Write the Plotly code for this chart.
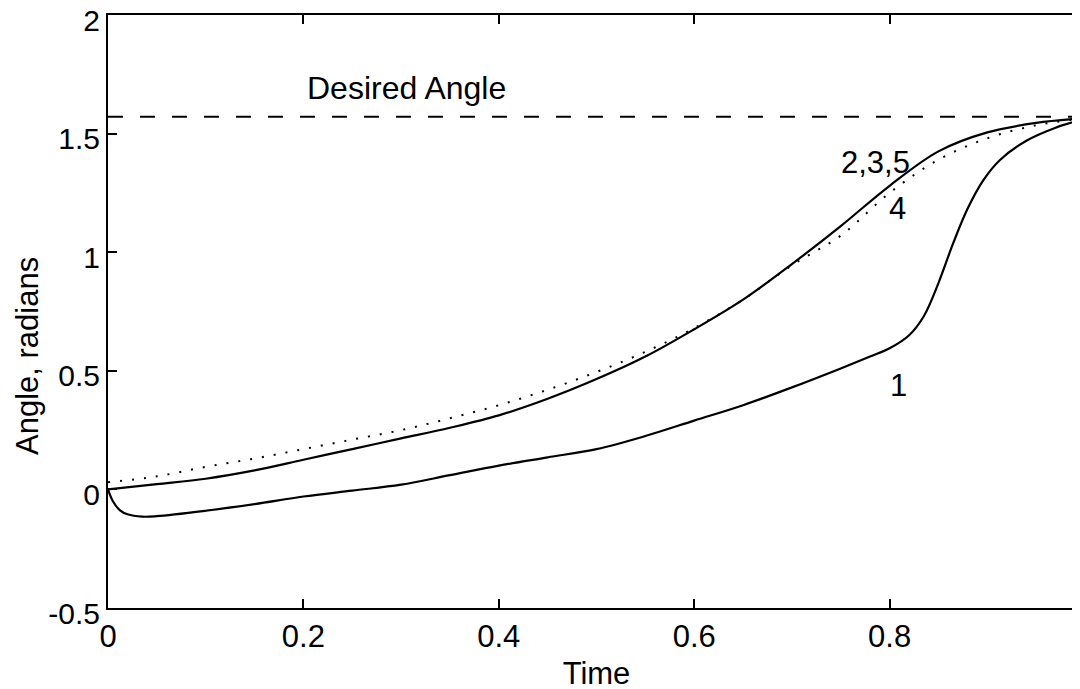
import plotly.graph_objects as go
import math

# ---- data ----
desired_angle = math.pi / 2

t_235 = [0, 0.05, 0.1, 0.15, 0.2, 0.25, 0.3, 0.35, 0.4, 0.45, 0.5, 0.55, 0.6, 0.65, 0.7, 0.75, 0.8,
         0.85, 0.9, 0.95, 1.0]
y_235 = [0, 0.022, 0.045, 0.08, 0.125, 0.17, 0.215, 0.26, 0.312, 0.382, 0.465, 0.56, 0.675, 0.80, 0.95,
         1.11, 1.28, 1.425, 1.505, 1.545, 1.565]

t_4 = [0, 0.05, 0.1, 0.15, 0.2, 0.25, 0.3, 0.35, 0.4, 0.45, 0.5, 0.55, 0.6, 0.65, 0.7, 0.75, 0.8,
       0.85, 0.9, 0.95, 1.0]
y_4 = [0.03, 0.055, 0.095, 0.13, 0.17, 0.21, 0.25, 0.3, 0.355, 0.42, 0.495, 0.58, 0.68, 0.80, 0.945,
       1.07, 1.25, 1.39, 1.48, 1.535, 1.565]

t_1 = [0, 0.005, 0.012, 0.02, 0.035, 0.05, 0.1, 0.15, 0.2, 0.25, 0.3, 0.35, 0.4, 0.45, 0.5, 0.55, 0.6,
       0.65, 0.7, 0.75, 0.78, 0.8, 0.82, 0.835, 0.85, 0.865, 0.88, 0.896, 0.913, 0.94, 0.97, 1.0]
y_1 = [0, -0.05, -0.087, -0.105, -0.115, -0.113, -0.09, -0.062, -0.03, -0.005, 0.02, 0.06, 0.1, 0.135,
       0.17, 0.225, 0.29, 0.355, 0.43, 0.51, 0.56, 0.595, 0.65, 0.73, 0.87, 1.037, 1.185, 1.304, 1.389,
       1.47, 1.525, 1.562]

x_ticks = [0, 0.2, 0.4, 0.6, 0.8, 1]
x_tick_labels = ["0", "0.2", "0.4", "0.6", "0.8", "1"]
y_ticks = [-0.5, 0, 0.5, 1, 1.5, 2]
y_tick_labels = ["-0.5", "0", "0.5", "1", "1.5", "2"]

labels = [
    ("Desired Angle", 0.306, 1.692),
    ("2,3,5", 0.786, 1.38),
    ("4", 0.808, 1.186),
    ("1", 0.809, 0.44),
]

FONT = "Liberation Sans, Arial, Helvetica, sans-serif"
FS = 31

fig = go.Figure()
fig.add_trace(go.Scatter(x=[0, 1], y=[desired_angle, desired_angle], mode="lines",
                         line=dict(color="black", width=2, dash="15px,17px"), showlegend=False))
fig.add_trace(go.Scatter(x=t_4, y=y_4, mode="lines", line_shape="spline",
                         line=dict(color="black", width=2, dash="2px,10px"), showlegend=False))
fig.add_trace(go.Scatter(x=t_235, y=y_235, mode="lines", line_shape="spline",
                         line=dict(color="black", width=2.2), showlegend=False))
fig.add_trace(go.Scatter(x=t_1, y=y_1, mode="lines", line_shape="spline",
                         line=dict(color="black", width=2.2), showlegend=False))

for text, x, y in labels:
    fig.add_annotation(x=x, y=y, text=text, showarrow=False, xref="x", yref="y",
                       font=dict(family=FONT, size=32 if text == "Desired Angle" else FS, color="black"))

# page offset of 8px (body margin) is compensated in the margins below
fig.add_annotation(text="Angle, radians", textangle=-90, showarrow=False,
                   xref="paper", yref="paper", x=(19 - 100) / 977, y=(600 - 348) / 593,
                   xanchor="center", yanchor="middle", borderpad=0,
                   font=dict(family=FONT, size=FS, color="black"))

fig.update_layout(
    width=1080, height=689,
    margin=dict(l=100, r=3, t=7, b=89, autoexpand=False),
    paper_bgcolor="white", plot_bgcolor="white",
    font=dict(family=FONT, size=FS, color="black"),
    xaxis=dict(range=[0, 1], tickvals=x_ticks, ticktext=x_tick_labels, automargin=False,
               ticks="inside", ticklen=9, tickwidth=1.5, tickcolor="black",
               showline=True, linecolor="black", linewidth=2, mirror="allticks",
               showgrid=False, zeroline=False, ticklabeloverflow="allow",
               title=dict(text="Time", standoff=9, font=dict(family=FONT, size=FS))),
    yaxis=dict(range=[-0.5, 2], tickvals=y_ticks, ticktext=y_tick_labels, automargin=False,
               ticks="inside", ticklen=9, tickwidth=1.5, tickcolor="black",
               showline=True, linecolor="black", linewidth=2, mirror="allticks",
               showgrid=False, zeroline=False, ticklabeloverflow="allow",
               ticklabelshift=5, tickfont=dict(family=FONT, size=30)),
)

fig.write_html("out.html")
